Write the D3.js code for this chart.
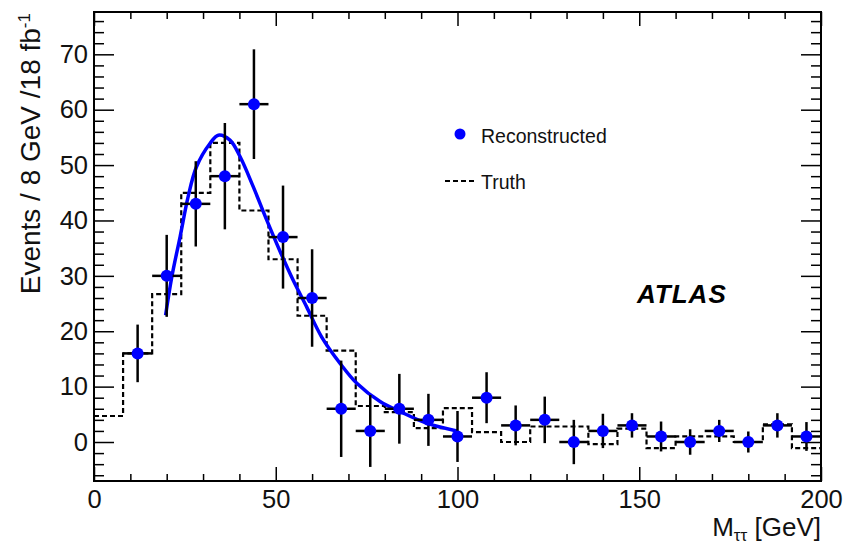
<!DOCTYPE html>
<html>
<head>
<meta charset="utf-8">
<script src="https://cdn.jsdelivr.net/npm/d3@7"></script>
<style>
  html, body { margin: 0; padding: 0; background: #fff; }
  svg { display: block; font-family: "Liberation Sans", Arial, Helvetica, sans-serif; }
</style>
</head>
<body>
<div id="chart"></div>
<script>
// Reconstructed points (bin centres, counts, vertical errors)
const recoMass = [12, 20, 28, 36, 44, 52, 60, 68, 76, 84, 92, 100, 108, 116, 124, 132, 140, 148, 156, 164, 172, 180, 188, 196];
const recoEvents = [16, 30, 43, 48, 61, 37, 26, 6, 2, 6, 4, 1, 8, 3, 4, 0, 2, 3, 1, 0, 2, 0, 3, 1];
const recoError = [5.2, 7.4, 7.7, 9.6, 9.9, 9.3, 8.8, 8.7, 6.5, 6.3, 4.7, 4.6, 4.6, 3.6, 4.2, 4.0, 3.1, 2.2, 2.7, 2.3, 2.0, 1.9, 2.2, 2.6];
const binHalfWidth = 4;

// Truth histogram (low edges, contents)
const truthEdges = [0, 8, 16, 24, 32, 40, 48, 56, 64, 72, 80, 88, 96, 104, 112, 120, 128, 136, 144, 152, 160, 168, 176, 184, 192, 200];
const truthEvents = [4.7, 16, 26.7, 45, 54, 41.8, 33, 22.8, 16.5, 6.5, 5.4, 2.5, 6.1, 1.8, 0, 2.8, 2.8, -0.4, 2.4, -1.1, 1.0, 1.0, 0, 3.2, -1.1];

// Fitted curve
const fitMass = [19.7, 21.4, 23.7, 25.9, 28.2, 31.9, 34.2, 37.4, 40.2, 43.8, 47.5, 51.2, 54.8, 58.5, 62.6, 67.7, 72.3, 78.7, 84.2, 91.5, 99.8];
const fitEvents = [22.9, 29.8, 37.1, 44.3, 49.7, 53.9, 55.4, 54.5, 51.5, 46.1, 40.1, 34.4, 29.2, 24.4, 19.0, 14.2, 10.6, 7.3, 5.5, 3.4, 2.0];

const xMajor = [0, 50, 100, 150, 200];
const xMinor = [10, 20, 30, 40, 60, 70, 80, 90, 110, 120, 130, 140, 160, 170, 180, 190];
const yMajor = [0, 10, 20, 30, 40, 50, 60, 70];
const yMinor = [-6, -4, -2, 2, 4, 6, 8, 12, 14, 16, 18, 22, 24, 26, 28, 32, 34, 36, 38, 42, 44, 46, 48, 52, 54, 56, 58, 62, 64, 66, 68, 72, 74, 76];

const width = 845, height = 544;
const margin = { top: 12, left: 94, right: 24, bottom: 63 };

const svg = d3.select("#chart")
  .append("svg")
  .attr("width", width)
  .attr("height", height);

const xScale = d3.scaleLinear()
  .domain([0, 200])
  .range([margin.left, width - margin.right]);

const yScale = d3.scaleLinear()
  .domain([-7.04, 77.64])
  .range([height - margin.bottom, margin.top]);

const plotW = width - margin.left - margin.right;
const plotH = height - margin.top - margin.bottom;

// --- axes (ticks point inwards, ROOT style)
function styleAxis(g) {
  g.select(".domain").remove();
  g.selectAll(".tick line").attr("stroke", "#000").attr("stroke-width", 1.5);
  g.selectAll(".tick text").attr("fill", "#111").style("font-size", "25.5px");
}

// left
svg.append("g")
  .attr("transform", `translate(${margin.left},0)`)
  .call(d3.axisLeft(yScale).tickValues(yMajor).tickSizeInner(-20).tickSizeOuter(0).tickPadding(6).tickFormat(d3.format("d")))
  .call(styleAxis);
svg.append("g")
  .attr("transform", `translate(${margin.left},0)`)
  .call(d3.axisLeft(yScale).tickValues(yMinor).tickSizeInner(-10).tickSizeOuter(0).tickFormat(""))
  .call(styleAxis);
// right
svg.append("g")
  .attr("transform", `translate(${width - margin.right},0)`)
  .call(d3.axisRight(yScale).tickValues(yMajor).tickSizeInner(-20).tickSizeOuter(0).tickFormat(""))
  .call(styleAxis);
svg.append("g")
  .attr("transform", `translate(${width - margin.right},0)`)
  .call(d3.axisRight(yScale).tickValues(yMinor).tickSizeInner(-10).tickSizeOuter(0).tickFormat(""))
  .call(styleAxis);
// bottom
svg.append("g")
  .attr("transform", `translate(0,${height - margin.bottom})`)
  .call(d3.axisBottom(xScale).tickValues(xMajor).tickSizeInner(-14).tickSizeOuter(0).tickPadding(9).tickFormat(d3.format("d")))
  .call(styleAxis);
svg.append("g")
  .attr("transform", `translate(0,${height - margin.bottom})`)
  .call(d3.axisBottom(xScale).tickValues(xMinor).tickSizeInner(-7).tickSizeOuter(0).tickFormat(""))
  .call(styleAxis);
// top
svg.append("g")
  .attr("transform", `translate(0,${margin.top})`)
  .call(d3.axisTop(xScale).tickValues(xMajor).tickSizeInner(-14).tickSizeOuter(0).tickFormat(""))
  .call(styleAxis);
svg.append("g")
  .attr("transform", `translate(0,${margin.top})`)
  .call(d3.axisTop(xScale).tickValues(xMinor).tickSizeInner(-7).tickSizeOuter(0).tickFormat(""))
  .call(styleAxis);

// frame
svg.append("rect")
  .attr("x", margin.left)
  .attr("y", margin.top)
  .attr("width", plotW)
  .attr("height", plotH)
  .attr("fill", "none")
  .attr("stroke", "#000")
  .attr("stroke-width", 2);

// --- truth histogram (dashed step line)
const truthPts = truthEvents.map((v, i) => ({ x: truthEdges[i], y: v }));
truthPts.push({ x: truthEdges[truthEdges.length - 1], y: truthEvents[truthEvents.length - 1] });

const stepLine = d3.line()
  .x(d => xScale(d.x))
  .y(d => yScale(d.y))
  .curve(d3.curveStepAfter);

svg.append("path")
  .attr("d", stepLine(truthPts))
  .attr("fill", "none")
  .attr("stroke", "#000")
  .attr("stroke-width", 2.2)
  .attr("stroke-dasharray", "5,3");

// --- fit curve
const fitPts = fitMass.map((m, i) => ({ x: m, y: fitEvents[i] }));
const fitLine = d3.line()
  .x(d => xScale(d.x))
  .y(d => yScale(d.y))
  .curve(d3.curveCatmullRom);

svg.append("path")
  .attr("d", fitLine(fitPts))
  .attr("fill", "none")
  .attr("stroke", "#0000ff")
  .attr("stroke-width", 3.5);

// --- reconstructed points with error bars
const reco = recoMass.map((m, i) => ({ x: m, y: recoEvents[i], err: recoError[i] }));
const pts = svg.append("g").selectAll("g")
  .data(reco)
  .join("g");

pts.append("line")
  .attr("x1", d => xScale(d.x))
  .attr("x2", d => xScale(d.x))
  .attr("y1", d => yScale(d.y - d.err))
  .attr("y2", d => yScale(d.y + d.err))
  .attr("stroke", "#000")
  .attr("stroke-width", 2.5);

pts.append("line")
  .attr("x1", d => xScale(d.x - binHalfWidth))
  .attr("x2", d => xScale(d.x + binHalfWidth))
  .attr("y1", d => yScale(d.y))
  .attr("y2", d => yScale(d.y))
  .attr("stroke", "#000")
  .attr("stroke-width", 2.5);

pts.append("circle")
  .attr("cx", d => xScale(d.x))
  .attr("cy", d => yScale(d.y))
  .attr("r", 6)
  .attr("fill", "#0000ff");

// --- legend
svg.append("circle")
  .attr("cx", 460).attr("cy", 134).attr("r", 5.5)
  .attr("fill", "#0000ff");
svg.append("text")
  .attr("x", 481).attr("y", 142.5)
  .style("font-size", "19.5px")
  .attr("fill", "#111")
  .text("Reconstructed");
svg.append("line")
  .attr("x1", 445).attr("x2", 476)
  .attr("y1", 181).attr("y2", 181)
  .attr("stroke", "#000")
  .attr("stroke-width", 2)
  .attr("stroke-dasharray", "5,3");
svg.append("text")
  .attr("x", 481).attr("y", 189)
  .style("font-size", "19.5px")
  .attr("fill", "#111")
  .text("Truth");

// ATLAS label
svg.append("text")
  .attr("x", 637).attr("y", 303)
  .style("font-size", "26px")
  .style("font-weight", "bold")
  .style("font-style", "italic")
  .style("letter-spacing", "1px")
  .attr("fill", "#000")
  .text("ATLAS");

// --- axis titles
const yTitle = svg.append("text")
  .attr("transform", `translate(40,${margin.top + 1}) rotate(-90)`)
  .style("text-anchor", "end")
  .style("font-size", "28px")
  .attr("fill", "#111");
yTitle.append("tspan").text("Events / 8 GeV /18 fb");
yTitle.append("tspan").attr("dy", -10).style("font-size", "17px").text("-1");

const xTitle = svg.append("text")
  .attr("x", width - margin.right)
  .attr("y", 536)
  .style("text-anchor", "end")
  .style("font-size", "26px")
  .attr("fill", "#111");
xTitle.append("tspan").text("M");
xTitle.append("tspan").attr("dy", 5).style("font-size", "17px").text("ττ");
xTitle.append("tspan").attr("dy", -5).text(" [GeV]");
</script>
</body>
</html>
